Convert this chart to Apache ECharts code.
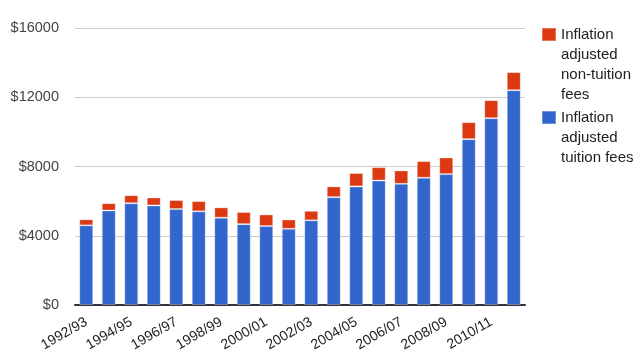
<!DOCTYPE html>
<html>
<head>
<meta charset="utf-8">
<script src="https://cdn.jsdelivr.net/npm/echarts@6/dist/echarts.min.js"></script>
<style>
html,body{margin:0;padding:0;background:#fff;}
#chart{width:640px;height:357px;}
</style>
</head>
<body>
<div id="chart"></div>
<script>
const categories = ['1992/93','1993/94','1994/95','1995/96','1996/97','1997/98','1998/99','1999/00','2000/01','2001/02','2002/03','2003/04','2004/05','2005/06','2006/07','2007/08','2008/09','2009/10','2010/11','2011/12'];
const tuitionFees = [4600,5460,5880,5750,5540,5410,5040,4670,4560,4400,4890,6230,6850,7190,7000,7350,7560,9580,10790,12410];
const nonTuitionFees = [350,420,460,460,520,590,600,700,670,540,550,620,770,770,770,960,960,980,1040,1040];
const yTicks = {min: 0, max: 16000, interval: 4000};

const FONT = '"Liberation Sans", Arial, sans-serif';
const chart = echarts.init(document.getElementById('chart'));
chart.setOption({
  animation: false,
  backgroundColor: '#fff',
  textStyle: {fontFamily: FONT},
  grid: {left: 75, right: 115, top: 28, bottom: 52, containLabel: false},
  legend: [
    {
      data: ['Inflation adjusted non-tuition fees'],
      orient: 'vertical', left: 541, top: 34.5 - 70, padding: 0,
      itemWidth: 14, itemHeight: 13, icon: 'rect',
      selectedMode: false,
      formatter: function () { return '\n\n\nInflation\nadjusted\nnon-tuition\nfees'; },
      textStyle: {fontFamily: FONT, fontSize: 15, color: '#222', lineHeight: 20}
    },
    {
      data: ['Inflation adjusted tuition fees'],
      orient: 'vertical', left: 541, top: 117.5 - 50, padding: 0,
      itemWidth: 14, itemHeight: 13, icon: 'rect',
      selectedMode: false,
      formatter: function () { return '\n\nInflation\nadjusted\ntuition fees'; },
      textStyle: {fontFamily: FONT, fontSize: 15, color: '#222', lineHeight: 20}
    }
  ],
  xAxis: {
    type: 'category',
    data: categories,
    axisLine: {show: true, lineStyle: {color: '#333', width: 2}},
    axisTick: {show: false},
    axisLabel: {interval: 1, rotate: 30, margin: 16, fontSize: 14, color: '#222', fontFamily: FONT}
  },
  yAxis: {
    type: 'value',
    min: yTicks.min, max: yTicks.max, interval: yTicks.interval,
    axisLine: {show: false},
    axisTick: {show: false},
    splitLine: {lineStyle: {color: '#cccccc', width: 1}},
    axisLabel: {margin: 16, fontSize: 14.5, color: '#444', fontFamily: FONT, formatter: v => '$' + v}
  },
  series: [
    {
      name: 'Inflation adjusted tuition fees',
      type: 'bar', stack: 'fees', data: tuitionFees,
      barWidth: '62%',
      itemStyle: {color: '#3366cc', borderColor: 'rgba(255,255,255,0.3)', borderWidth: 1}
    },
    {
      name: 'Inflation adjusted non-tuition fees',
      type: 'bar', stack: 'fees', data: nonTuitionFees,
      barWidth: '62%',
      itemStyle: {color: '#dc3912', borderColor: 'rgba(255,255,255,0.3)', borderWidth: 1}
    }
  ]
});
</script>
</body>
</html>
